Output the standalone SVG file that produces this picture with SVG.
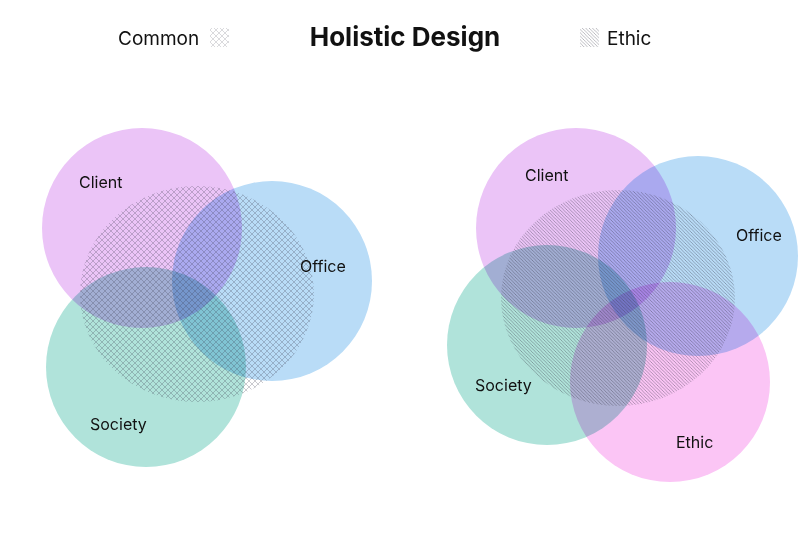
<svg xmlns="http://www.w3.org/2000/svg" width="812" height="541" viewBox="0 0 812 541">
<defs>
<pattern id="cross" width="6" height="6" patternUnits="userSpaceOnUse">
<path d="M0,0 L6,6 M6,0 L0,6" stroke="#3a3a4a" stroke-width="0.6" stroke-opacity="0.45" fill="none"/>
</pattern>
<pattern id="hatch" width="3.4" height="3.4" patternUnits="userSpaceOnUse">
<path d="M-1,-1 L4.4,4.4 M-1,2.4 L1,4.4 M2.4,-1 L4.4,1" stroke="#3a3a4a" stroke-width="0.7" stroke-opacity="0.55" fill="none"/>
</pattern>
</defs>
<style>
.t{font-family:Inter,"Liberation Sans",sans-serif;fill:#111;}
.lbl{font-size:16px;}
.leg{font-size:19px;}
.title{font-size:26px;font-weight:700;}
.c{mix-blend-mode:multiply;}
.client{fill:#EBC4F7;}
.office{fill:#B9DCF7;}
.society{fill:#B0E3DA;}
.ethic{fill:#FBC5F5;}
</style>
<rect width="812" height="541" fill="#ffffff"/>
<g id="legend">
<text class="t leg" x="118" y="45">Common</text>
<rect x="210" y="28" width="19" height="19" fill="url(#cross)" opacity="0.7"/>
<text class="t title" x="405" y="46" text-anchor="middle">Holistic Design</text>
<rect x="580" y="28" width="19" height="19" fill="url(#hatch)" opacity="0.9"/>
<text class="t leg" x="607" y="45">Ethic</text>
</g>
<g id="left-diagram" style="isolation:isolate">
<g id="l-client"><circle class="c client" cx="142" cy="228" r="100"/><text class="t lbl" x="79" y="188">Client</text></g>
<g id="l-office"><circle class="c office" cx="272" cy="281" r="100"/><text class="t lbl" x="300" y="272">Office</text></g>
<g id="l-society"><circle class="c society" cx="146" cy="367" r="100"/><text class="t lbl" x="90" y="430">Society</text></g>
<g id="l-common"><ellipse cx="197" cy="294" rx="117" ry="108" fill="url(#cross)"/></g>
</g>
<g id="right-diagram" style="isolation:isolate">
<g id="r-client"><circle class="c client" cx="576" cy="228" r="100"/><text class="t lbl" x="525" y="181">Client</text></g>
<g id="r-office"><circle class="c office" cx="698" cy="256" r="100"/><text class="t lbl" x="736" y="241">Office</text></g>
<g id="r-society"><circle class="c society" cx="547" cy="345" r="100"/><text class="t lbl" x="475" y="391">Society</text></g>
<g id="r-ethic"><circle class="c ethic" cx="670" cy="382" r="100"/><text class="t lbl" x="676" y="448">Ethic</text></g>
<g id="r-ethic-area"><ellipse cx="618" cy="298" rx="117" ry="108" fill="url(#hatch)"/></g>
</g>
<g id="connectors"/>
</svg>
